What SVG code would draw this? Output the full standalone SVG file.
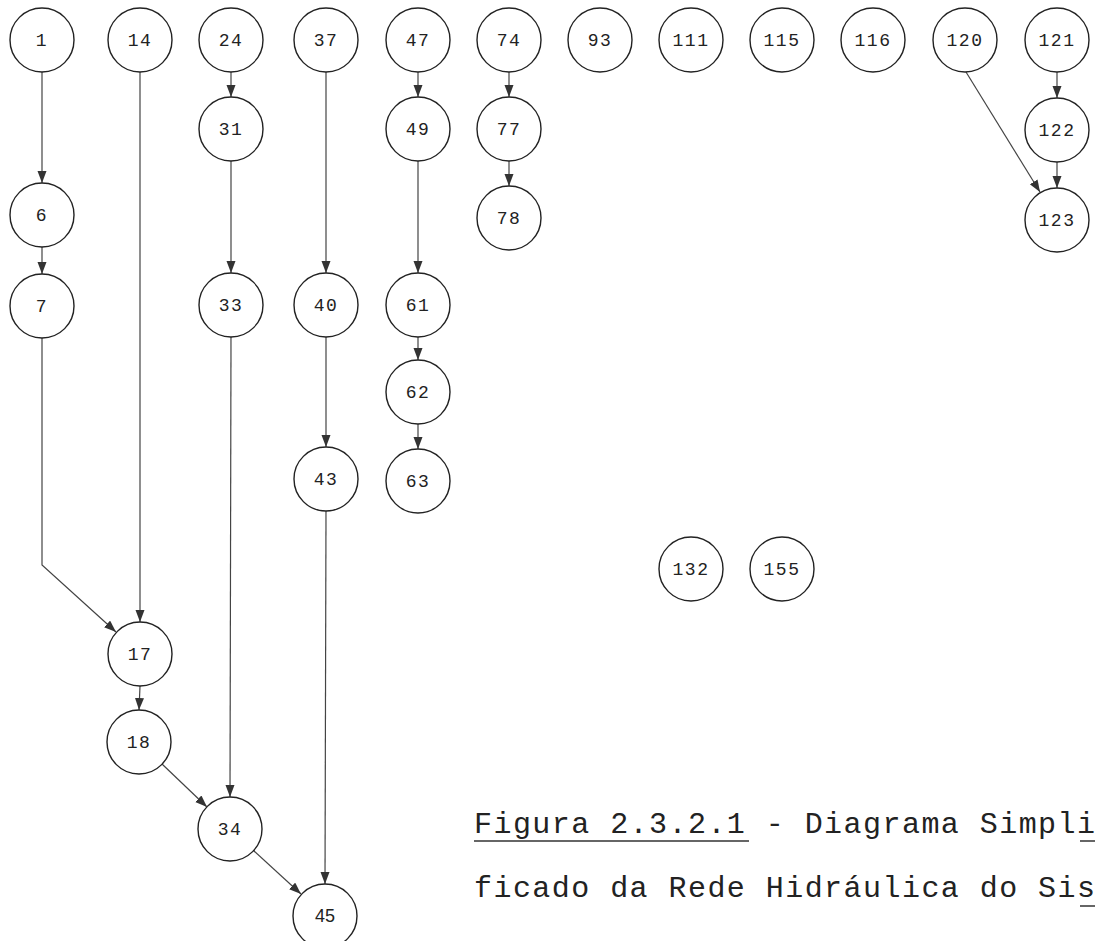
<svg xmlns="http://www.w3.org/2000/svg" width="1098" height="941" viewBox="0 0 1098 941">
<style>
.n circle{fill:#fff;stroke:#222;stroke-width:1.4}
.n text{font-family:"Liberation Mono",monospace;font-size:18px;letter-spacing:1.5px;fill:#222;text-anchor:middle}
.e{fill:none;stroke:#444;stroke-width:1.2}
.cap{font-family:"Liberation Mono","Courier New",monospace;font-size:30px;fill:#222}
.ul{stroke:#333;stroke-width:1.5}
</style>
<defs>
<marker id="ah" markerUnits="userSpaceOnUse" markerWidth="12" markerHeight="10" refX="12" refY="4.5" orient="auto">
<path d="M0,0 L12,4.5 L0,9 z" fill="#333"/>
</marker>
</defs>
<g id="connectors">
<path class="e" marker-end="url(#ah)" d="M42,72 L42,183"/>
<path class="e" marker-end="url(#ah)" d="M42,247 L42,274"/>
<path class="e" marker-end="url(#ah)" d="M42,338 L42,565 L116,632"/>
<path class="e" marker-end="url(#ah)" d="M140,72 L140,622"/>
<path class="e" marker-end="url(#ah)" d="M140,686 L139,710"/>
<path class="e" marker-end="url(#ah)" d="M162,764 L207,807"/>
<path class="e" marker-end="url(#ah)" d="M231,72 L231,97"/>
<path class="e" marker-end="url(#ah)" d="M231,161 L231,273"/>
<path class="e" marker-end="url(#ah)" d="M231,337 L230,797"/>
<path class="e" marker-end="url(#ah)" d="M326,72 L326,273"/>
<path class="e" marker-end="url(#ah)" d="M326,337 L326,447"/>
<path class="e" marker-end="url(#ah)" d="M326,511 L325,884"/>
<path class="e" marker-end="url(#ah)" d="M254,851 L301,894"/>
<path class="e" marker-end="url(#ah)" d="M418,72 L418,97"/>
<path class="e" marker-end="url(#ah)" d="M418,161 L418,273"/>
<path class="e" marker-end="url(#ah)" d="M418,337 L418,360"/>
<path class="e" marker-end="url(#ah)" d="M418,424 L418,449"/>
<path class="e" marker-end="url(#ah)" d="M509,72 L509,97"/>
<path class="e" marker-end="url(#ah)" d="M509,161 L509,186"/>
<path class="e" marker-end="url(#ah)" d="M966,72 L1040,192"/>
<path class="e" marker-end="url(#ah)" d="M1057,72 L1057,98"/>
<path class="e" marker-end="url(#ah)" d="M1057,162 L1057,188"/>
</g>
<g id="n1" class="n"><circle cx="42" cy="40" r="32"/><text x="42" y="46">1</text></g>
<g id="n14" class="n"><circle cx="140" cy="40" r="32"/><text x="140" y="46">14</text></g>
<g id="n24" class="n"><circle cx="231" cy="40" r="32"/><text x="231" y="46">24</text></g>
<g id="n37" class="n"><circle cx="326" cy="40" r="32"/><text x="326" y="46">37</text></g>
<g id="n47" class="n"><circle cx="418" cy="40" r="32"/><text x="418" y="46">47</text></g>
<g id="n74" class="n"><circle cx="509" cy="40" r="32"/><text x="509" y="46">74</text></g>
<g id="n93" class="n"><circle cx="600" cy="40" r="32"/><text x="600" y="46">93</text></g>
<g id="n111" class="n"><circle cx="691" cy="40" r="32"/><text x="691" y="46">111</text></g>
<g id="n115" class="n"><circle cx="782" cy="40" r="32"/><text x="782" y="46">115</text></g>
<g id="n116" class="n"><circle cx="873" cy="40" r="32"/><text x="873" y="46">116</text></g>
<g id="n120" class="n"><circle cx="965" cy="40" r="32"/><text x="965" y="46">120</text></g>
<g id="n121" class="n"><circle cx="1057" cy="40" r="32"/><text x="1057" y="46">121</text></g>
<g id="n31" class="n"><circle cx="231" cy="129" r="32"/><text x="231" y="135">31</text></g>
<g id="n49" class="n"><circle cx="418" cy="129" r="32"/><text x="418" y="135">49</text></g>
<g id="n77" class="n"><circle cx="509" cy="129" r="32"/><text x="509" y="135">77</text></g>
<g id="n122" class="n"><circle cx="1057" cy="130" r="32"/><text x="1057" y="136">122</text></g>
<g id="n6" class="n"><circle cx="42" cy="215" r="32"/><text x="42" y="221">6</text></g>
<g id="n78" class="n"><circle cx="509" cy="218" r="32"/><text x="509" y="224">78</text></g>
<g id="n123" class="n"><circle cx="1057" cy="220" r="32"/><text x="1057" y="226">123</text></g>
<g id="n7" class="n"><circle cx="42" cy="306" r="32"/><text x="42" y="312">7</text></g>
<g id="n33" class="n"><circle cx="231" cy="305" r="32"/><text x="231" y="311">33</text></g>
<g id="n40" class="n"><circle cx="326" cy="305" r="32"/><text x="326" y="311">40</text></g>
<g id="n61" class="n"><circle cx="418" cy="305" r="32"/><text x="418" y="311">61</text></g>
<g id="n62" class="n"><circle cx="418" cy="392" r="32"/><text x="418" y="398">62</text></g>
<g id="n63" class="n"><circle cx="418" cy="481" r="32"/><text x="418" y="487">63</text></g>
<g id="n43" class="n"><circle cx="326" cy="479" r="32"/><text x="326" y="485">43</text></g>
<g id="n132" class="n"><circle cx="691" cy="569" r="32"/><text x="691" y="575">132</text></g>
<g id="n155" class="n"><circle cx="782" cy="569" r="32"/><text x="782" y="575">155</text></g>
<g id="n17" class="n"><circle cx="140" cy="654" r="32"/><text x="140" y="660">17</text></g>
<g id="n18" class="n"><circle cx="139" cy="742" r="32"/><text x="139" y="748">18</text></g>
<g id="n34" class="n"><circle cx="230" cy="829" r="32"/><text x="230" y="835">34</text></g>
<g id="n45" class="n"><circle cx="325" cy="916" r="32"/><text x="325" y="922" style="font-family:'Liberation Sans',sans-serif;letter-spacing:0">45</text></g>
<g id="caption">
<text class="cap" x="474" y="833" textLength="621" lengthAdjust="spacing">Figura 2.3.2.1 - Diagrama Simpli</text>
<text class="cap" x="474" y="897" textLength="621" lengthAdjust="spacing">ficado da Rede Hidráulica do Sis</text>
<line class="ul" x1="474" y1="841" x2="749" y2="841"/>
<line class="ul" x1="1080" y1="841" x2="1095" y2="841"/>
<line class="ul" x1="1080" y1="906" x2="1095" y2="906"/>
</g>
</svg>
